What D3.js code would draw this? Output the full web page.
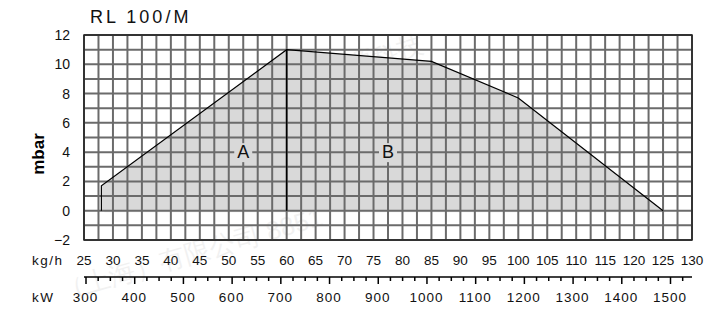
<!DOCTYPE html>
<html lang="en">
<head>
<meta charset="UTF-8">
<title>RL 100/M</title>
<script src="https://d3js.org/d3.v7.min.js"></script>
<style>
  body { margin: 0; background: #fff; }
  text { font-family: "Liberation Sans", Arial, sans-serif; }
</style>
</head>
<body>
<div id="chart"></div>
<script>
// working range of the burner (kg/h vs mbar)
const rangeKgh  = [28, 28, 60, 85, 100, 125];
const rangeMbar = [0, 1.7, 11, 10.2, 7.7, 0];
const splitKgh = 60;           // boundary between zone A and zone B
const zones = [
  { name: "A", kgh: 52.5, mbar: 4 },
  { name: "B", kgh: 77.5, mbar: 4 }
];
const kghTicks  = d3.range(25, 131, 5);
const mbarTicks = d3.range(-2, 13, 2);
const kwTicks   = d3.range(300, 1501, 100);

const width = 719, height = 319;
const svg = d3.select("#chart").append("svg")
  .attr("width", width).attr("height", height);

// scales
const x = d3.scaleLinear().domain([25, 130]).range([84, 692]);
const y = d3.scaleLinear().domain([-2, 12]).range([240, 35]);
const xkw = d3.scaleLinear().domain([300, 1500]).range([85.5, 670]);

// faint watermark
svg.append("text")
  .attr("transform", "translate(300,88) rotate(-16)")
  .attr("font-family", "Noto Sans CJK SC").attr("font-size", 26)
  .attr("fill", "#000").attr("opacity", 0.05)
  .text("鑫能源科技");
svg.append("text")
  .attr("transform", "translate(62,300) rotate(-16)")
  .attr("font-family", "Noto Sans CJK SC").attr("font-size", 26)
  .attr("fill", "#000").attr("opacity", 0.05)
  .text("（上海）有限公司 8851");

// shaded area, with a light drop shadow
const area = d3.line().x(d => x(d)).y((d, i) => y(rangeMbar[i]));
const pts = rangeKgh.map((k, i) => [x(k), y(rangeMbar[i])]);
svg.append("polygon")
  .attr("points", pts.map(p => [p[0] + 3, p[1] + 1.5]).join(" "))
  .attr("fill", "#ebebeb");
svg.append("polygon")
  .attr("points", pts.join(" "))
  .attr("fill", "#d9d9d9");

// grid
const grid = svg.append("g").attr("stroke", "#6b6b6b").attr("stroke-width", 2);
grid.selectAll("line.v").data(d3.range(25, 130.1, 2.5)).join("line")
  .attr("x1", d => x(d)).attr("x2", d => x(d))
  .attr("y1", y(12)).attr("y2", y(-2));
grid.selectAll("line.h").data(d3.range(-2, 12.1, 1)).join("line")
  .attr("x1", x(25)).attr("x2", x(130))
  .attr("y1", d => y(d)).attr("y2", d => y(d));
svg.append("rect")
  .attr("x", x(25)).attr("y", y(12))
  .attr("width", x(130) - x(25)).attr("height", y(-2) - y(12))
  .attr("fill", "none").attr("stroke", "#222").attr("stroke-width", 1.5);

// outline of the range
svg.append("path")
  .attr("d", area(rangeKgh))
  .attr("fill", "none").attr("stroke", "#000").attr("stroke-width", 1.2);
svg.append("line")
  .attr("x1", x(splitKgh)).attr("x2", x(splitKgh))
  .attr("y1", y(11)).attr("y2", y(0))
  .attr("stroke", "#000").attr("stroke-width", 1.5);

// zone labels
zones.forEach(z => {
  svg.append("rect")
    .attr("x", x(z.kgh) - 9).attr("y", y(z.mbar) - 9)
    .attr("width", 18).attr("height", 19)
    .attr("fill", "#d9d9d9");
  svg.append("text")
    .attr("x", x(z.kgh)).attr("y", y(z.mbar) + 6)
    .attr("text-anchor", "middle").attr("font-size", 18)
    .attr("fill", "#111").text(z.name);
});

// y axis labels
svg.selectAll("text.ytick").data(mbarTicks).join("text")
  .attr("class", "ytick")
  .attr("x", 70).attr("y", d => y(d) + 5)
  .attr("text-anchor", "end").attr("font-size", 14).attr("fill", "#111")
  .text(d => d < 0 ? "\u2212" + Math.abs(d) : d);
svg.append("text")
  .attr("transform", "translate(44,154) rotate(-90)")
  .attr("text-anchor", "middle").attr("font-size", 17).attr("font-weight", "bold")
  .text("mbar");

// kg/h labels
svg.selectAll("text.kgh").data(kghTicks).join("text")
  .attr("class", "kgh")
  .attr("x", d => x(d)).attr("y", 265)
  .attr("text-anchor", "middle").attr("font-size", 13.5).attr("fill", "#111")
  .text(d => d);
svg.append("text").attr("x", 32).attr("y", 265)
  .attr("font-size", 13.5).attr("letter-spacing", 1.5).attr("fill", "#111").text("kg/h");

// kW scale
const kwAxis = d3.axisBottom(xkw)
  .tickValues(d3.range(300, 1526, 25))
  .tickSize(4).tickFormat("");
const gkw = svg.append("g").attr("transform", "translate(0,277)").call(kwAxis);
gkw.select(".domain").attr("d", `M${x(25)},0H${x(130)}`).attr("stroke-width", 1.5);
gkw.selectAll(".tick line")
  .attr("y2", d => d % 100 === 0 ? 7 : 4)
  .attr("stroke-width", 1.5);
svg.selectAll("text.kw").data(kwTicks).join("text")
  .attr("class", "kw")
  .attr("x", d => xkw(d)).attr("y", 302)
  .attr("text-anchor", "middle").attr("font-size", 13.5)
  .attr("letter-spacing", 1).attr("fill", "#111")
  .text(d => d);
svg.append("text").attr("x", 32).attr("y", 302)
  .attr("font-size", 13.5).attr("letter-spacing", 1.5).attr("fill", "#111").text("kW");

// title
svg.append("text").attr("x", 90).attr("y", 23)
  .attr("font-size", 18).attr("letter-spacing", 3).attr("fill", "#111")
  .text("RL 100/M");
</script>
</body>
</html>
